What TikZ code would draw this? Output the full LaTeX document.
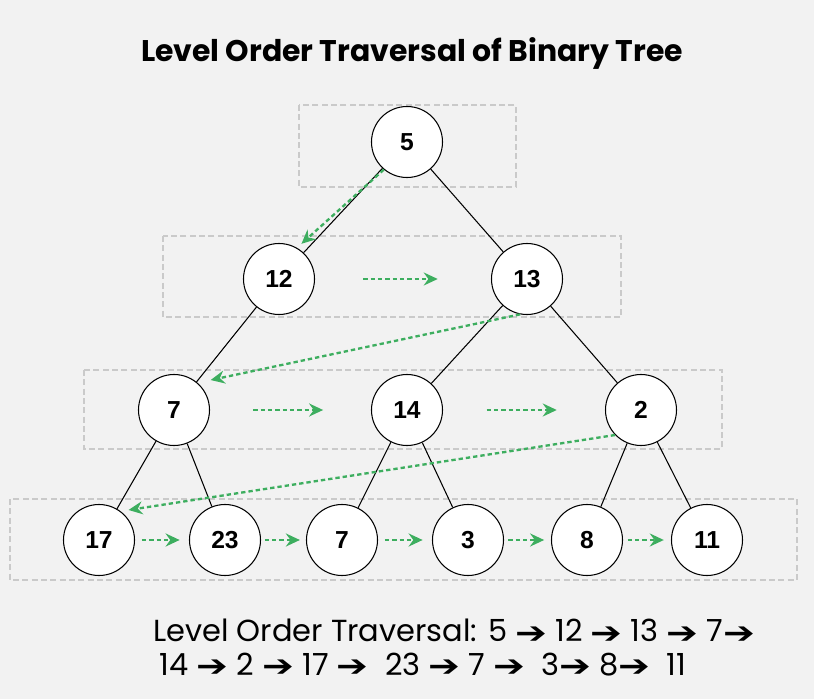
\documentclass[tikz,border=0pt]{standalone}
\usepackage{fontspec}
\setmainfont{Liberation Sans}
\newfontfamily\popfont{Poppins}
\newfontfamily\arrowfont{DejaVu Sans}
\usetikzlibrary{arrows.meta,calc}
\definecolor{bgcol}{HTML}{F2F2F2}
\definecolor{visitcol}{HTML}{3DAE5F}
\definecolor{levelcol}{HTML}{CACACA}
\newcommand{\nxt}{{\arrowfont\fontsize{27}{28}\selectfont\raisebox{-0.06em}{\scalebox{1.2}[0.95]{➔}}}}
\tikzset{
  tnode/.style={circle, draw, line width=0.9pt, fill=white, minimum size=21.3mm, inner sep=0pt, font=\fontsize{21}{25}\selectfont\bfseries},
  levelbox/.style={draw=levelcol, line width=0.45mm, dash pattern=on 1.8mm off 1mm},
  visit/.style={draw=visitcol, line width=0.7mm, dash pattern=on 1.3mm off 0.9mm, -{Stealth[length=4.2mm,width=3.9mm,inset=1.4mm]}}
}
\begin{document}
\begin{tikzpicture}[x=0.3mm, y=-0.3mm]
  \fill[bgcol] (0,0) rectangle (814,699);
  \useasboundingbox (0,0) rectangle (814,699);
  \node[font=\popfont\bfseries\fontsize{25.5}{30}\selectfont] (title) at (412,53) {Level Order Traversal of Binary Tree};
  \draw[levelbox] (299,105) rectangle (516,187);
  \draw[levelbox] (163,236) rectangle (621,317);
  \draw[levelbox] (84,370) rectangle (722,449);
  \draw[levelbox] (10,499) rectangle (797,580);
  \node[tnode] (n5) at (407,142) {5};
  \node[tnode] (n12) at (279,279) {12};
  \node[tnode] (n13) at (527,279) {13};
  \node[tnode] (n7) at (174,410) {7};
  \node[tnode] (n14) at (407,410) {14};
  \node[tnode] (n2) at (641,410) {2};
  \node[tnode] (n17) at (99,540) {17};
  \node[tnode] (n23) at (225,540) {23};
  \node[tnode] (m7) at (342,540) {7};
  \node[tnode] (n3) at (468,540) {3};
  \node[tnode] (n8) at (587,540) {8};
  \node[tnode] (n11) at (707,540) {11};
  \foreach \a/\b in {n5/n12, n5/n13, n12/n7, n13/n14, n13/n2, n7/n17, n7/n23, n14/m7, n14/n3, n2/n8, n2/n11}
    \draw[line width=0.9pt] (\a) -- (\b);
  \foreach \a/\b in {n12/n13, n7/n14, n14/n2, n17/n23, n23/m7, m7/n3, n3/n8, n8/n11}
    \draw[visit] ($(\a)!0.34!(\b)$) -- ($(\a)!0.64!(\b)$);
  \draw[visit, shorten >=1.8mm] (n5.230) -- (n12.60);
  \draw[visit, shorten >=4mm] (n13.259) -- (n7.49);
  \draw[visit, shorten >=2.4mm] (n2.224) -- (n17.53);
  \node[anchor=west, align=left, inner sep=0pt, font=\popfont\fontsize{26}{28.5}\selectfont] (order) at (153,648)
    {Level Order Traversal: 5 \nxt{} 12 \nxt{} 13 \nxt{} 7\nxt\\
     \hspace{2mm}14 \nxt{} 2 \nxt{} 17 \nxt{} \ 23 \nxt{} 7 \nxt{} \ 3\nxt{} 8\nxt{} \ 11};
\end{tikzpicture}
\end{document}
